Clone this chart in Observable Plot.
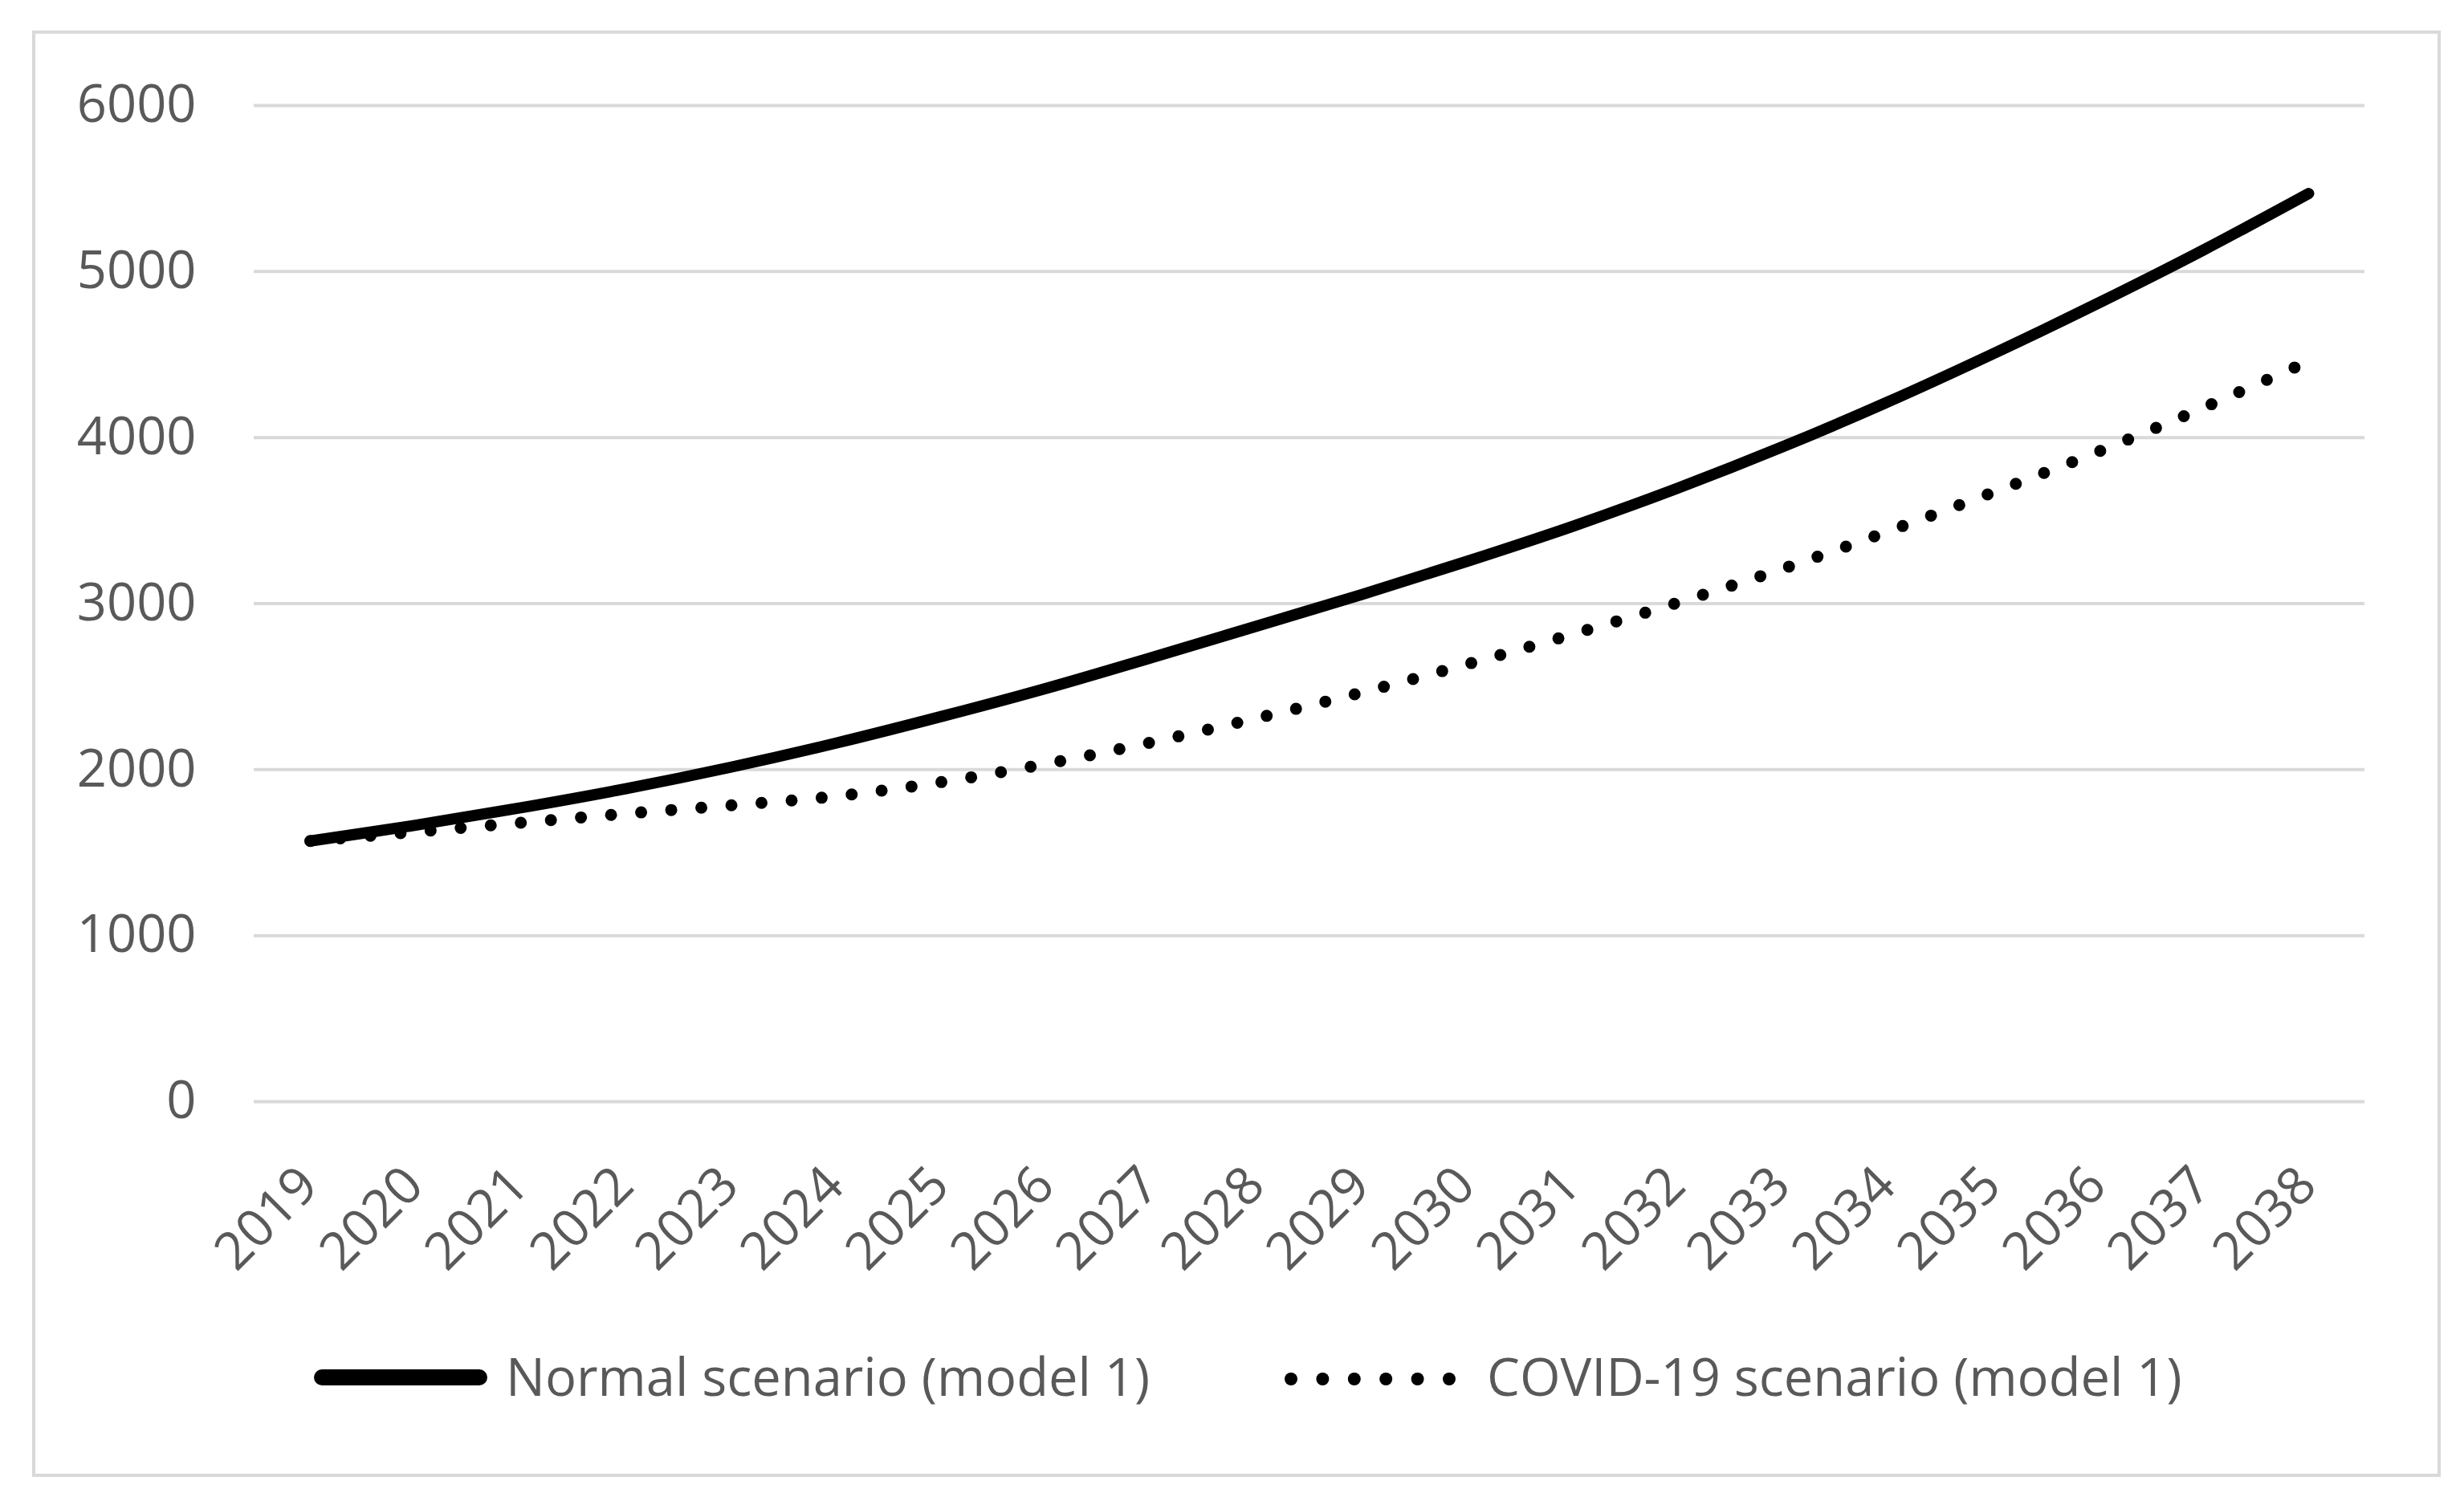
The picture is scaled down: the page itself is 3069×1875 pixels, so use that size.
<!DOCTYPE html>
<html>
<head>
<meta charset="utf-8">
<script src="https://cdn.jsdelivr.net/npm/d3@7"></script>
<script src="https://cdn.jsdelivr.net/npm/@observablehq/plot@0.6"></script>
<style>
  html, body { margin: 0; padding: 0; background: #ffffff; }
  body { width: 3069px; height: 1875px; position: relative; overflow: hidden; font-family: "Open Sans", sans-serif; }
  #frame { position: absolute; left: 40px; top: 38px; width: 3000px; height: 1802px; box-sizing: border-box; border: 4px solid #d9d9d9; }
  #chart { position: absolute; left: 0; top: 0; }
  .legend-text { position: absolute; font-family: "Open Sans", sans-serif; font-size: 65px; color: #595959; line-height: 80px; height: 80px; white-space: nowrap; }
  .legend-sample { position: absolute; }
</style>
</head>
<body>
<div id="frame"></div>
<div id="chart"></div>
<svg class="legend-sample" style="left:391px;top:1696px" width="216" height="40">
  <line x1="10" y1="20" x2="206" y2="20" stroke="#000" stroke-width="20" stroke-linecap="round"></line>
</svg>
<div class="legend-text" style="left:630px;top:1674px">Normal scenario (model 1)</div>
<svg class="legend-sample" id="dotsample" style="left:1600px;top:1698px" width="214" height="40"></svg>
<div class="legend-text" style="left:1852px;top:1674px">COVID-19 scenario (model 1)</div>
<script>
const years = [2019, 2020, 2021, 2022, 2023, 2024, 2025, 2026, 2027, 2028,
               2029, 2030, 2031, 2032, 2033, 2034, 2035, 2036, 2037, 2038];
const normalScenario = [1570, 1665, 1770, 1885, 2015, 2160, 2320, 2490, 2675, 2865,
                        3055, 3255, 3465, 3695, 3945, 4215, 4505, 4810, 5130, 5470];
const covidScenario = [1570, 1625, 1680, 1735, 1785, 1840, 1925, 2035, 2165, 2310,
                       2465, 2635, 2815, 3005, 3210, 3435, 3670, 3915, 4180, 4460];
const yTicks = [0, 1000, 2000, 3000, 4000, 5000, 6000];
const seriesNames = ["Normal scenario (model 1)", "COVID-19 scenario (model 1)"];

const normalData = years.map((year, i) => ({year, value: normalScenario[i], series: seriesNames[0]}));
const covidData = years.map((year, i) => ({year, value: covidScenario[i], series: seriesNames[1]}));

const chart = Plot.plot({
  width: 3069,
  height: 1600,
  marginLeft: 316,
  marginRight: 124,
  marginTop: 131,
  marginBottom: 228,
  style: {fontFamily: "Open Sans", background: "transparent", overflow: "visible"},
  x: {type: "point", domain: years, padding: 0.5, axis: null},
  y: {domain: [0, 6000], axis: null},
  marks: [
    Plot.ruleY(yTicks, {stroke: "#d9d9d9", strokeWidth: 4}),
    Plot.axisY({ticks: yTicks, tickSize: 0, tickPadding: 72, fontSize: 65, fill: "#595959",
                tickFormat: d => String(d), label: null}),
    Plot.text(years, {x: d => d, frameAnchor: "bottom", text: d => String(d), rotate: -45,
                      textAnchor: "end", lineAnchor: "bottom", dx: 13, dy: 108,
                      fontSize: 65, fill: "#595959"}),
    Plot.line(covidData, {x: "year", y: "value", stroke: "#000", strokeWidth: 15,
                          strokeDasharray: "0 37.6", strokeLinecap: "round", curve: "catmull-rom"}),
    Plot.line(normalData, {x: "year", y: "value", stroke: "#000", strokeWidth: 14,
                           strokeLinecap: "round", curve: "catmull-rom"})
  ]
});
document.getElementById("chart").appendChild(chart);

const dotSvg = document.getElementById("dotsample");
for (let k = 0; k < 6; k++) {
  const c = document.createElementNS("http://www.w3.org/2000/svg", "circle");
  c.setAttribute("cx", 8 + 39.4 * k);
  c.setAttribute("cy", 20);
  c.setAttribute("r", 8);
  c.setAttribute("fill", "#000");
  dotSvg.appendChild(c);
}
</script>
</body>
</html>
